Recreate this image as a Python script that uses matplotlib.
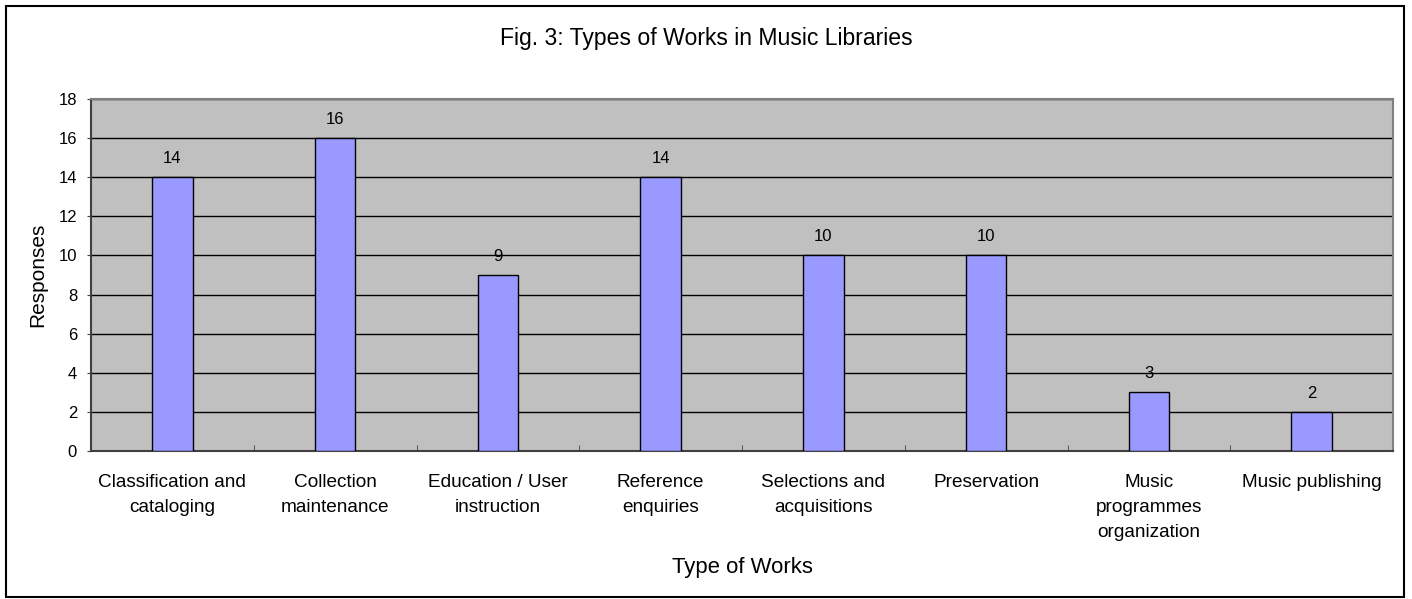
import numpy as np
import matplotlib.pyplot as plt
from matplotlib.patches import Rectangle

categories = ['Classification and\ncataloging', 'Collection\nmaintenance',
              'Education / User\ninstruction', 'Reference\nenquiries',
              'Selections and\nacquisitions', 'Preservation',
              'Music\nprogrammes\norganization', 'Music publishing']
responses = [14, 16, 9, 14, 10, 10, 3, 2]

plt.rcParams['font.family'] = ['Liberation Sans', 'DejaVu Sans']

W, H = 1412, 599
fig = plt.figure(figsize=(W / 100, H / 100), dpi=100)
ax = fig.add_axes([91 / W, 1 - 451 / H, (1393 - 91) / W, (451 - 99) / H])

x = np.arange(len(categories))
ax.set_facecolor('#C0C0C0')
ax.set_axisbelow(True)
ax.yaxis.grid(True, color='black', linewidth=1)
ax.bar(x, responses, width=0.25, color='#9999FF', edgecolor='black', linewidth=1, zorder=3)

for xi, v in zip(x, responses):
    ax.annotate(str(v), (xi, v), xytext=(0, 8), textcoords='offset points',
                ha='center', va='bottom', fontsize=12)

ax.set_xlim(-0.5, len(categories) - 0.5)
ax.set_ylim(0, 18)
ax.set_yticks(range(0, 19, 2))
ax.set_xticks(x)
ax.set_xticklabels(categories, fontsize=13.7, linespacing=1.6)
ax.set_xticks(np.arange(0.5, len(categories) - 0.5), minor=True)
ax.tick_params(axis='x', which='major', length=0, pad=16.5)
ax.tick_params(axis='x', which='minor', length=4, direction='in', color='#404040')
ax.tick_params(axis='y', length=3, labelsize=12, pad=7, color='#404040')

for s in ['top', 'right']:
    ax.spines[s].set_color('#808080')
    ax.spines[s].set_linewidth(1.5)
for s in ['left', 'bottom']:
    ax.spines[s].set_color('#404040')
    ax.spines[s].set_linewidth(1.5)

ax.set_ylabel('Responses', fontsize=15)
ax.yaxis.set_label_coords((38 - 91) / (1393 - 91), 0.5)
ax.set_xlabel('Type of Works', fontsize=15.9)
ax.xaxis.set_label_coords(0.5, -(568 - 451) / (451 - 99))
ax.xaxis.label.set_va('center')
ax.yaxis.label.set_va('center')

fig.text(0.5, 1 - 38 / H, 'Fig. 3: Types of Works in Music Libraries',
         ha='center', va='center', fontsize=16.6)

fig.patches.append(Rectangle((6 / W, 2 / H), (1404 - 6) / W, (H - 8) / H,
                             transform=fig.transFigure, fill=False,
                             edgecolor='black', linewidth=1.5))

fig.savefig('out.png', dpi=100)
